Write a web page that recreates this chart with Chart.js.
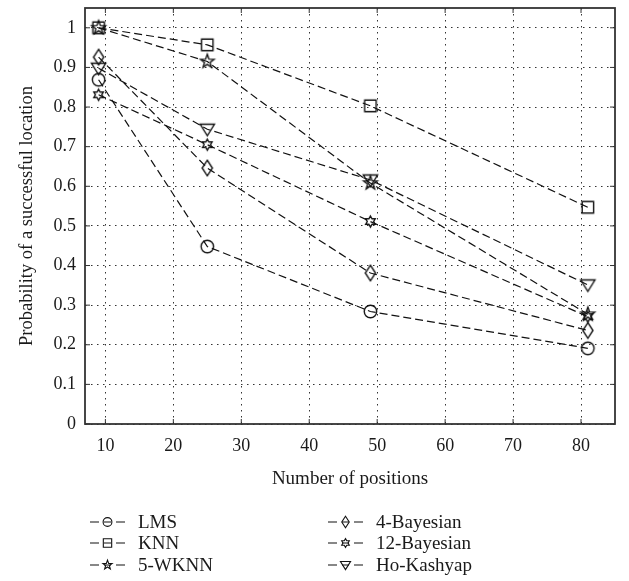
<!DOCTYPE html>
<html>
<head>
<meta charset="utf-8">
<script src="https://cdn.jsdelivr.net/npm/chart.js@4.4.1/dist/chart.umd.min.js"></script>
<style>
  html, body { margin: 0; padding: 0; background: #fff; }
  #wrap { width: 629px; height: 581px; }
</style>
</head>
<body>
<div id="wrap"><canvas id="chart" width="629" height="581"></canvas></div>
<script>
// data
const positions = [9, 25, 49, 81];
const lms = [0.869, 0.448, 0.284, 0.191];
const knn = [1.0, 0.957, 0.803, 0.547];
const wknn5 = [1.0, 0.915, 0.608, 0.277];
const bayes4 = [0.926, 0.646, 0.381, 0.236];
const bayes12 = [0.831, 0.705, 0.511, 0.271];
const hoKashyap = [0.898, 0.744, 0.616, 0.351];
const seriesNames = ["LMS", "KNN", "5-WKNN", "4-Bayesian", "12-Bayesian", "Ho-Kashyap"];
const seriesValues = [lms, knn, wknn5, bayes4, bayes12, hoKashyap];
const seriesMarkers = ["circle", "square", "pentagram", "diamond", "hexagram", "triDown"];
const xTicks = [10, 20, 30, 40, 50, 60, 70, 80];
const yTicks = [0, 0.1, 0.2, 0.3, 0.4, 0.5, 0.6, 0.7, 0.8, 0.9, 1];

const INK = "#111";
const FONT = "'Liberation Serif', 'DejaVu Serif', serif";

// draws one hollow marker
const drawMarker = function (ctx, shape, x, y, r) {
  ctx.beginPath();
  if (shape === "circle") {
    ctx.arc(x, y, r, 0, Math.PI * 2);
  } else if (shape === "square") {
    const s = r * 0.95;
    ctx.rect(x - s, y - s, 2 * s, 2 * s);
  } else if (shape === "diamond") {
    ctx.moveTo(x, y - r * 1.3);
    ctx.lineTo(x + r * 0.85, y);
    ctx.lineTo(x, y + r * 1.3);
    ctx.lineTo(x - r * 0.85, y);
    ctx.closePath();
  } else if (shape === "triDown") {
    ctx.moveTo(x - r * 1.15, y - r * 0.8);
    ctx.lineTo(x + r * 1.15, y - r * 0.8);
    ctx.lineTo(x, y + r * 1.05);
    ctx.closePath();
  } else if (shape === "pentagram") {
    for (let i = 0; i < 10; i++) {
      const rad = i % 2 === 0 ? r * 1.1 : r * 0.45;
      const a = -Math.PI / 2 + (i * Math.PI) / 5;
      const px = x + rad * Math.cos(a);
      const py = y + rad * Math.sin(a);
      i === 0 ? ctx.moveTo(px, py) : ctx.lineTo(px, py);
    }
    ctx.closePath();
  } else if (shape === "hexagram") {
    for (let i = 0; i < 12; i++) {
      const rad = i % 2 === 0 ? r : r * 0.58;
      const a = -Math.PI / 2 + (i * Math.PI) / 6;
      const px = x + rad * Math.cos(a);
      const py = y + rad * Math.sin(a);
      i === 0 ? ctx.moveTo(px, py) : ctx.lineTo(px, py);
    }
    ctx.closePath();
  }
  ctx.stroke();
};

const markerCanvas = function (shape, r) {
  const size = Math.ceil(r * 3 + 4);
  const c = document.createElement("canvas");
  c.width = size;
  c.height = size;
  const g = c.getContext("2d");
  g.strokeStyle = INK;
  g.lineWidth = 1.4;
  drawMarker(g, shape, size / 2, size / 2, r);
  return c;
};

const markerSize = { circle: 6.2, square: 6, pentagram: 6.5, diamond: 6, hexagram: 5.5, triDown: 6.2 };

const datasets = seriesNames.map((name, i) => ({
  label: name,
  data: positions.map((p, j) => ({ x: p, y: seriesValues[i][j] })),
  borderColor: INK,
  borderWidth: 1.2,
  borderDash: [8, 4],
  backgroundColor: "transparent",
  pointStyle: markerCanvas(seriesMarkers[i], markerSize[seriesMarkers[i]]),
  pointRadius: 6,
  tension: 0,
  fill: false,
}));

// box round the plot with short inward ticks
const framePlugin = {
  id: "frame",
  beforeDatasetsDraw(chart) {
    const { ctx, chartArea: a, scales } = chart;
    ctx.save();
    ctx.strokeStyle = "#333";
    ctx.lineWidth = 1.8;
    ctx.strokeRect(a.left, a.top, a.right - a.left, a.bottom - a.top);
    ctx.lineWidth = 1;
    ctx.beginPath();
    xTicks.forEach((v) => {
      const px = scales.x.getPixelForValue(v);
      ctx.moveTo(px, a.bottom); ctx.lineTo(px, a.bottom - 5);
      ctx.moveTo(px, a.top); ctx.lineTo(px, a.top + 5);
    });
    yTicks.forEach((v) => {
      const py = scales.y.getPixelForValue(v);
      ctx.moveTo(a.left, py); ctx.lineTo(a.left + 5, py);
      ctx.moveTo(a.right, py); ctx.lineTo(a.right - 5, py);
    });
    ctx.stroke();
    ctx.restore();
  },
};

// two-column legend under the axis title
const legendPlugin = {
  id: "colLegend",
  afterDraw(chart) {
    const ctx = chart.ctx;
    const cols = [90, 328];
    const rows = [522, 543, 565];
    ctx.save();
    ctx.font = "19px " + FONT;
    ctx.fillStyle = "#1a1a1a";
    ctx.textBaseline = "middle";
    seriesNames.forEach((name, i) => {
      const x0 = cols[Math.floor(i / 3)];
      const y0 = rows[i % 3];
      ctx.strokeStyle = INK;
      ctx.lineWidth = 1.2;
      ctx.beginPath();
      ctx.moveTo(x0, y0); ctx.lineTo(x0 + 9, y0);
      ctx.moveTo(x0 + 14, y0); ctx.lineTo(x0 + 21, y0);
      ctx.moveTo(x0 + 26, y0); ctx.lineTo(x0 + 35, y0);
      ctx.stroke();
      ctx.lineWidth = 1.1;
      drawMarker(ctx, seriesMarkers[i], x0 + 17.5, y0, 4.4);
      ctx.fillText(name, x0 + 48, y0 + 1);
    });
    ctx.restore();
  },
};

new Chart(document.getElementById("chart"), {
  type: "line",
  data: { datasets },
  options: {
    responsive: false,
    animation: false,
    layout: { padding: { top: 8, right: 14, bottom: 87, left: 0 } },
    plugins: { legend: { display: false }, tooltip: { enabled: false } },
    scales: {
      x: {
        type: "linear",
        min: 7,
        max: 85,
        afterBuildTicks: (s) => { s.ticks = xTicks.map((v) => ({ value: v })); },
        afterFit: (s) => { s.height = 70; s.paddingLeft = 0; s.paddingRight = 0; },
        grid: { color: "#333", lineWidth: 1, drawTicks: false },
        border: { display: false, dash: [1.5, 4.5] },
        ticks: { color: "#1a1a1a", padding: 11, font: { family: FONT, size: 18 } },
        title: { display: true, text: "Number of positions", color: "#1a1a1a", padding: { top: 0, bottom: 4 }, font: { family: FONT, size: 19 } },
      },
      y: {
        min: 0,
        max: 1.05,
        afterBuildTicks: (s) => { s.ticks = yTicks.map((v) => ({ value: v })); },
        afterFit: (s) => { s.width = 85; s.paddingTop = 0; s.paddingBottom = 0; },
        grid: { color: "#333", lineWidth: 1, drawTicks: false },
        border: { display: false, dash: [1.5, 4.5] },
        ticks: {
          color: "#1a1a1a",
          padding: 9,
          font: { family: FONT, size: 18 },
          callback: (v) => (v === 0 || v === 1 ? String(v) : v.toFixed(1)),
        },
        title: { display: true, text: "Probability of a successful location", color: "#1a1a1a", padding: { top: 16, bottom: 0 }, font: { family: FONT, size: 18.5 } },
      },
    },
  },
  plugins: [framePlugin, legendPlugin],
});
</script>
</body>
</html>
